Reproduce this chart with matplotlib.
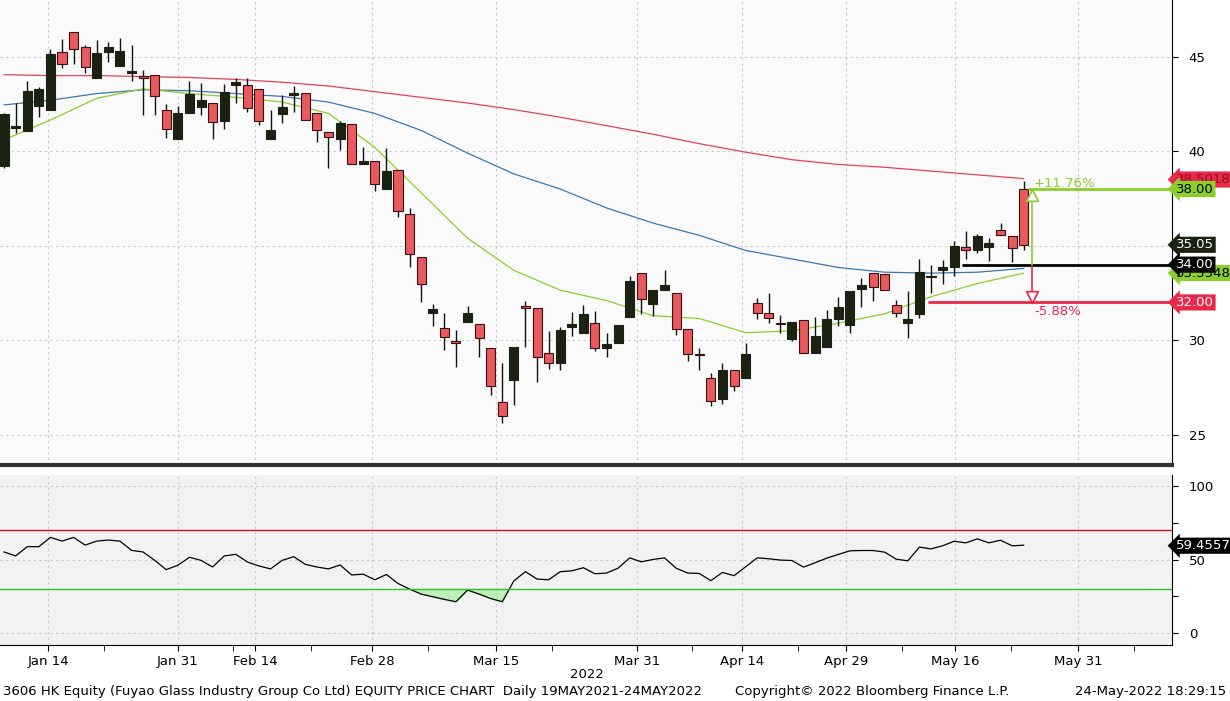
import matplotlib
matplotlib.use("Agg")
import matplotlib.pyplot as plt
import numpy as np

# ---------------- data ----------------
colors = list("BBBBBRRRBBBBRRRBBBRBBRRBBBRRRBRBRBRRRBRRBRRRBRRRBBBRBBBRBBRRRRBRBRRRBRBBBBBRRRBBBBBRBBRRR")
tops = [41.97,41.35,43.2,43.3,45.15,45.25,46.3,45.5,45.2,45.5,45.3,44.25,44.0,44.05,42.2,42.0,43.05,42.7,42.55,43.15,
        43.65,43.5,43.3,41.1,42.35,43.1,43.1,42.0,41.0,41.5,41.45,39.5,39.5,38.95,39.0,36.7,34.4,31.65,30.65,29.95,
        31.45,30.85,29.6,26.75,29.65,31.8,31.7,29.35,30.55,30.85,31.4,30.9,29.8,30.8,33.15,33.55,32.65,32.9,32.5,30.6,
        29.25,28.0,28.4,28.4,29.25,31.95,31.45,30.9,30.95,31.05,30.2,31.15,31.75,32.6,32.9,33.55,33.5,31.85,31.15,33.6,
        33.38,33.9,35.0,34.95,35.5,35.15,35.85,35.5,38.0]
bottoms = [39.2,41.25,41.05,42.4,42.2,44.6,45.4,44.45,43.9,45.25,44.5,44.15,43.9,42.9,41.2,40.65,42.0,42.35,41.55,41.6,
           43.5,42.3,41.6,40.65,41.95,42.95,41.65,41.1,40.75,40.65,39.3,39.3,38.25,38.0,36.85,34.55,33.0,31.45,30.15,29.85,
           30.95,30.1,27.6,26.0,27.9,31.7,29.1,28.8,28.8,30.7,30.4,29.6,29.6,29.85,31.25,32.2,31.9,32.65,30.6,29.25,
           29.2,26.8,26.9,27.6,28.0,31.45,31.2,30.85,30.05,29.3,29.3,29.65,31.15,30.8,32.7,32.8,32.65,31.45,30.9,31.4,
           33.33,33.7,33.9,34.75,34.8,34.95,35.55,34.9,35.05]
highs = [42.0,42.55,43.7,43.4,45.4,45.95,46.3,45.6,45.9,45.8,46.0,45.6,44.3,44.05,42.5,42.4,43.7,43.6,42.55,43.55,
         43.9,43.85,43.3,42.2,43.0,43.45,43.1,42.0,41.0,41.6,41.45,40.2,39.5,40.15,39.0,37.0,34.4,31.9,31.45,30.55,
         31.8,30.85,29.6,28.8,29.65,32.1,31.7,30.5,30.7,31.5,31.85,31.55,30.4,30.8,33.4,33.55,32.65,33.7,32.5,30.6,
         29.6,28.25,28.8,28.4,29.85,32.25,32.5,31.35,30.95,31.05,31.25,31.6,32.3,32.6,33.3,33.55,33.5,32.15,32.6,34.3,
         34.0,34.25,35.25,35.8,35.6,35.4,36.2,35.5,38.4]
lows = [39.1,40.95,41.05,41.8,42.2,44.4,44.6,44.15,43.9,44.7,44.5,43.7,41.9,41.9,40.7,40.65,42.0,41.9,40.65,41.2,
        42.55,42.1,41.4,40.65,41.5,42.1,41.65,40.5,39.1,40.05,39.3,39.3,37.9,38.0,36.5,33.85,32.0,30.75,29.5,28.6,
        30.95,29.1,27.1,25.6,26.6,29.65,27.8,28.5,28.4,30.2,30.4,29.45,29.1,29.85,31.25,31.4,31.3,32.65,30.3,28.9,
        28.4,26.5,26.65,27.3,28.0,31.15,30.9,30.4,29.95,29.3,29.3,29.65,30.75,30.4,31.75,32.1,32.65,31.25,30.1,31.2,
        32.5,33.0,33.4,34.3,34.6,34.2,35.55,34.15,34.8]

ma_idx = list(range(0, 89, 4))
ma_red = [44.05,44.0,44.0,43.95,43.9,43.8,43.65,43.45,43.15,42.85,42.55,42.2,41.8,41.35,40.9,40.4,39.95,39.55,39.3,39.15,38.95,38.75,38.55]
ma_blue = [42.45,42.7,43.05,43.25,43.2,43.05,42.9,42.6,42.0,41.1,39.9,38.8,38.0,37.0,36.2,35.55,34.75,34.3,33.85,33.6,33.55,33.6,33.8]
ma_green = [40.6,41.65,42.8,43.3,43.05,42.85,42.6,42.0,40.2,37.8,35.4,33.7,32.65,32.1,31.3,31.15,30.4,30.5,30.9,31.4,32.3,33.0,33.55]

rsi = [55.2,52.5,58.8,58.8,65.1,62.6,65.1,59.9,62.6,63.3,62.6,56.3,55.2,49.5,43.2,46.2,51.6,49.5,45.0,52.5,
       53.6,48.4,45.7,43.7,49.5,52.0,46.8,45.0,43.7,46.4,39.6,40.1,36.3,39.9,33.8,30.0,26.6,24.8,23.0,21.4,
       29.3,26.6,23.6,21.4,35.6,41.8,36.8,36.3,41.8,42.4,44.5,40.4,40.9,44.2,51.2,48.5,50.1,51.2,44.2,40.9,
       40.6,35.7,41.3,39.1,45.1,51.2,50.6,49.7,49.4,44.9,47.9,51.0,53.5,56.0,56.2,56.2,55.1,50.3,49.2,58.5,
       57.3,59.4,62.5,61.4,64.1,61.4,63.2,59.4,59.8]

tick_labels = ["Jan 14","Jan 31","Feb 14","Feb 28","Mar 15","Mar 31","Apr 14","Apr 29","May 16","May 31"]
tick_pos = [3.8,15.0,21.7,31.75,42.5,54.6,63.7,72.7,82.1,92.7]

level_hi, level_mid, level_lo = 38.00, 34.00, 32.00
last_close, ma_red_last, ma_green_last = 35.05, 38.5018, 33.5548
rsi_last = 59.4557

RED = "#e85a5e"; DARK = "#1c2212"; GRN = "#8ccf2a"; LRED = "#e8294a"

# ---------------- figure ----------------
fig = plt.figure(figsize=(12.3, 7.01), dpi=100)
fig.patch.set_facecolor("white")
W, H = 1230, 701
ax = fig.add_axes([0, 1 - 465/H, 1172/W, 465/H])
ax2 = fig.add_axes([0, 1 - 645/H, 1172/W, (645-475)/H], sharex=ax)
ax.set_facecolor("#fafafa"); ax2.set_facecolor("#f2f2f2")

n = len(tops)
x = np.arange(n)
for i in range(n):
    c = RED if colors[i] == "R" else DARK
    ax.vlines(x[i], lows[i], highs[i], color="#111111", lw=1, zorder=3)
    h = max(tops[i] - bottoms[i], 0.06)
    ax.add_patch(plt.Rectangle((x[i]-0.39, bottoms[i]), 0.78, h, facecolor=c,
                               edgecolor="#3a1010" if c == RED else DARK, lw=0.8, zorder=4))

ax.plot(ma_idx, ma_red, color="#e8405a", lw=0.9, zorder=2)
ax.plot(ma_idx, ma_blue, color="#3a78b0", lw=0.9, zorder=2)
ax.plot(ma_idx, ma_green, color="#8ccf2a", lw=0.9, zorder=2)

xmin, xmax = -0.35, 100.8
ax.set_xlim(xmin, xmax)
ax.set_ylim(23.4, 48.0)

# level lines and arrows
ax.hlines(level_hi, 88.4, xmax, color=GRN, lw=2, zorder=5)
ax.hlines(level_mid, 82.7, xmax, color="black", lw=2, zorder=5)
ax.hlines(level_lo, 79.7, xmax, color=LRED, lw=2, zorder=5)
ax.vlines(88.7, level_mid, level_hi - 0.5, color=GRN, lw=1.2, zorder=5)
ax.vlines(88.7, level_lo + 0.5, level_mid, color=LRED, lw=1.2, zorder=5)
ax.scatter([88.7], [level_hi - 0.3], marker="^", s=70, facecolor="white", edgecolor=GRN, lw=1.2, zorder=6)
ax.scatter([88.7], [level_lo + 0.3], marker="v", s=70, facecolor="white", edgecolor=LRED, lw=1.2, zorder=6)
ax.text(88.9, level_hi + 0.3, "+%.2f%%" % ((level_hi/level_mid - 1)*100), color=GRN, fontsize=9.5, va="center")
ax.text(88.9, level_lo - 0.5, "%.2f%%" % ((level_lo/level_mid - 1)*100), color=LRED, fontsize=9.5, va="center")

# axes styling
for a in (ax, ax2):
    a.yaxis.tick_right()
    for s in ("left", "top"):
        a.spines[s].set_visible(False)
    a.spines["right"].set_color("black")
    a.tick_params(axis="y", direction="out", length=4, labelsize=9.5, pad=8)
    a.grid(True, color="#c8c8c8", ls=(0, (2, 3)), lw=0.8)
ax.set_yticks([25, 30, 35, 40, 45])
ax.spines["bottom"].set_color("#333333"); ax.spines["bottom"].set_linewidth(3)
ax.tick_params(axis="x", which="both", bottom=False, labelbottom=False)

# right tags
def tag(a, y, txt, fc, tc):
    a.annotate(txt, xy=(1.0, y), xycoords=("axes fraction", "data"), xytext=(3, 0),
               textcoords="offset points", va="center", ha="left", fontsize=9.5, color=tc,
               bbox=dict(boxstyle="larrow,pad=0.12", fc=fc, ec="none"), annotation_clip=False, zorder=10)
tag(ax, ma_red_last, "%.4f" % ma_red_last, LRED, "#8a1020")
tag(ax, level_hi, "%.2f" % level_hi, GRN, "black")
tag(ax, ma_green_last, "%.4f" % ma_green_last, GRN, "black")
tag(ax, last_close, "%.2f" % last_close, DARK, "white")
tag(ax, level_mid, "%.2f" % level_mid, "black", "white")
tag(ax, level_lo, "%.2f" % level_lo, LRED, "white")

# RSI panel
ax2.plot(x, rsi, color="black", lw=0.9)
r = np.array(rsi)
ax2.fill_between(x, r, 30, where=r < 30, interpolate=True, color="#b8f0b0", alpha=0.9)
ax2.axhline(70, color="#d01020", lw=1)
ax2.axhline(30, color="#30c030", lw=1)
ax2.set_ylim(-8, 107.5)
ax2.set_yticks([0, 25, 50, 75, 100])
ax2.set_yticklabels(["0", "", "50", "", "100"])
ax2.grid(axis="y", which="major", visible=False)
for v in (0, 50, 100):
    ax2.axhline(v, color="#c8c8c8", ls=(0, (2, 3)), lw=0.8, zorder=0)
tag(ax2, rsi_last, "%.4f" % rsi_last, "black", "white")
ax2.spines["bottom"].set_color("black")
ax2.set_xticks(tick_pos)
ax2.set_xticklabels(tick_labels, fontsize=9.5)
ax2.set_xticks([p + 4.8 for p in tick_pos], minor=True)
ax2.tick_params(axis="x", which="both", direction="out", length=4)
ax2.text(50.3, 1 - 675/H, "2022", transform=ax2.get_xaxis_transform(), ha="center", va="center", fontsize=9.5)
fig.texts  # noqa
# place "2022" in figure coords instead
ax2.texts[-1].remove()
fig.text(587/W, 1 - 675/H, "2022", ha="center", va="center", fontsize=9.5)

# footer
fig.text(3/W, 1 - 692/H, "3606 HK Equity (Fuyao Glass Industry Group Co Ltd) EQUITY PRICE CHART  Daily 19MAY2021-24MAY2022",
         fontsize=9.5, va="center", ha="left")
fig.text(735/W, 1 - 692/H, "Copyright\u00a9 2022 Bloomberg Finance L.P.", fontsize=9.5, va="center", ha="left")
fig.text(1226/W, 1 - 692/H, "24-May-2022 18:29:15", fontsize=9.5, va="center", ha="right")

fig.savefig("out.png", dpi=100)
